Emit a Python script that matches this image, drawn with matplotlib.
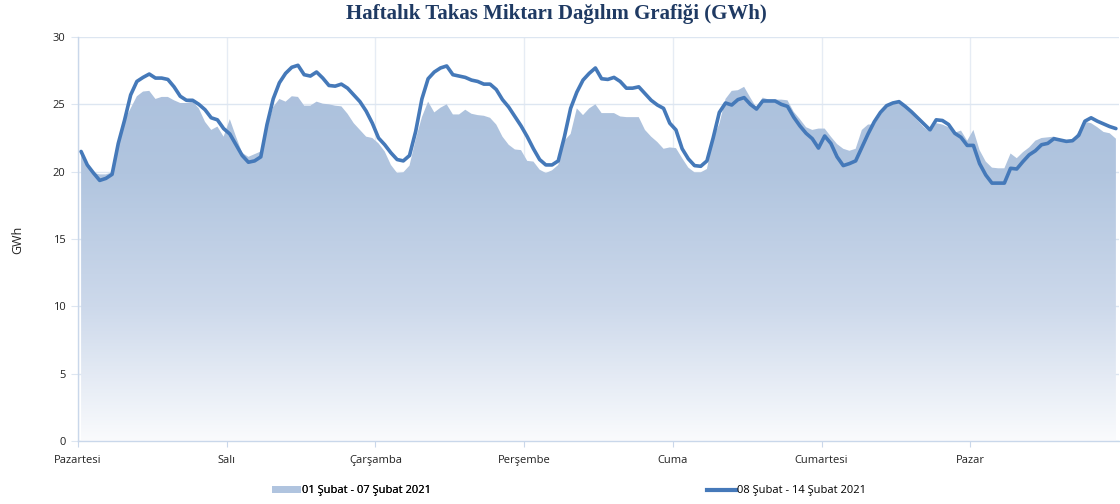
import numpy as np
import matplotlib
matplotlib.use("Agg")
import matplotlib.pyplot as plt
from matplotlib.patches import Polygon, Patch
from matplotlib.lines import Line2D
from matplotlib.colors import LinearSegmentedColormap

days = ["Pazartesi", "Salı", "Çarşamba", "Perşembe", "Cuma", "Cumartesi", "Pazar"]
label_week1 = "01 Şubat - 07 Şubat 2021"
label_week2 = "08 Şubat - 14 Şubat 2021"

week1 = [
    21.4, 20.4, 19.9, 19.8, 19.8, 19.95, 21.8, 23.8, 24.7, 25.6, 25.95, 26.0, 25.4, 25.55, 25.55, 25.3, 25.1, 25.1, 25.2, 24.7, 23.7, 23.1, 23.35, 22.6,
    23.9, 22.6, 21.4, 21.1, 21.3, 21.5, 23.3, 24.8, 25.4, 25.2, 25.6, 25.55, 24.9, 24.9, 25.2, 25.05, 25.0, 24.9, 24.85, 24.3, 23.6, 23.1, 22.6, 22.5,
    22.1, 21.5, 20.5, 19.9, 19.95, 20.45, 22.4, 24.05, 25.2, 24.4, 24.75, 25.0, 24.25, 24.25, 24.6, 24.3, 24.2, 24.15, 24.0, 23.5, 22.6, 22.0, 21.65, 21.6,
    20.8, 20.75, 20.15, 19.9, 20.1, 20.5, 22.3, 22.8, 24.7, 24.2, 24.7, 25.0, 24.35, 24.35, 24.35, 24.1, 24.05, 24.05, 24.05, 23.1, 22.6, 22.2, 21.7, 21.8,
    21.75, 21.0, 20.3, 19.95, 19.95, 20.2, 22.5, 23.55, 25.4, 26.0, 26.05, 26.3, 25.5, 24.75, 25.5, 25.35, 25.35, 25.35, 25.3, 24.45, 23.9, 23.3, 23.1, 23.2,
    23.2, 22.6, 22.05, 21.7, 21.55, 21.7, 23.1, 23.5, 23.5, 24.2, 24.8, 25.05, 25.2, 24.8, 24.3, 23.8, 23.3, 22.95, 23.6, 23.5, 23.3, 22.9, 23.05, 22.3,
    23.1, 21.6, 20.75, 20.3, 20.25, 20.25, 21.35, 21.0, 21.45, 21.8, 22.3, 22.5, 22.55, 22.6, 22.35, 22.15, 22.25, 23.0, 23.7, 23.6, 23.3, 22.95, 22.85, 22.45,
]

week2 = [
    21.5, 20.5, 19.9, 19.35, 19.5, 19.8, 22.1, 23.8, 25.7, 26.7, 27.0, 27.25, 26.95, 26.95, 26.85, 26.3, 25.6, 25.3, 25.3, 25.0, 24.6, 24.0, 23.85, 23.2,
    22.8, 22.0, 21.2, 20.7, 20.8, 21.1, 23.5, 25.4, 26.6, 27.3, 27.75, 27.9, 27.2, 27.1, 27.4, 26.95, 26.4, 26.35, 26.5, 26.2, 25.7, 25.2, 24.5, 23.6,
    22.5, 22.0, 21.4, 20.9, 20.8, 21.2, 23.0, 25.4, 26.9, 27.4, 27.7, 27.85, 27.2, 27.1, 27.0, 26.8, 26.7, 26.5, 26.5, 26.1, 25.35, 24.8, 24.1, 23.4,
    22.6, 21.7, 20.9, 20.5, 20.5, 20.8, 22.6, 24.7, 25.9, 26.8, 27.3, 27.7, 26.9, 26.85, 27.0, 26.7, 26.2, 26.2, 26.3, 25.8, 25.3, 24.95, 24.7, 23.6,
    23.1, 21.7, 20.95, 20.45, 20.4, 20.8, 22.5, 24.4, 25.1, 24.95, 25.35, 25.5, 25.0, 24.65, 25.25, 25.25, 25.25, 25.0, 24.85, 24.05, 23.4, 22.85, 22.45, 21.75,
    22.65, 22.1, 21.1, 20.45, 20.6, 20.8, 21.8, 22.8, 23.7, 24.4, 24.9, 25.1, 25.2, 24.85, 24.45, 24.0, 23.55, 23.1, 23.85, 23.8, 23.5, 22.85, 22.55, 21.95,
    21.95, 20.6, 19.75, 19.15, 19.15, 19.15, 20.25, 20.2, 20.75, 21.25, 21.55, 22.0, 22.1, 22.45, 22.35, 22.25, 22.3, 22.7, 23.75, 24.0, 23.75, 23.55, 23.35, 23.2,
]

W, H = 1120, 504
fig = plt.figure(figsize=(W / 100, H / 100), dpi=100)
ax = fig.add_axes([78 / W, 63 / H, 1041 / W, 404 / H])

x = np.arange(len(week2))
ax.set_xlim(-0.5, len(x) - 0.5)
ax.set_ylim(0, 30)

# gradient area
cmap = LinearSegmentedColormap.from_list(
    "grad",
    [(0.0, "#fafbfd"), (0.33, "#cdd9eb"), (0.66, "#b1c5df"), (1.0, "#aabfdc")],
)
verts = np.vstack([[x[0], 0], np.column_stack([x, week1]), [x[-1], 0]])
poly = Polygon(verts, closed=True, facecolor="none", edgecolor="none", zorder=2)
ax.add_patch(poly)
grad = np.linspace(0, 1, 256).reshape(-1, 1)
im = ax.imshow(grad, extent=[x[0], x[-1], 0, 30], origin="lower", aspect="auto",
               cmap=cmap, zorder=2, interpolation="bilinear")
im.set_clip_path(poly)
ax.set_xlim(-0.5, len(x) - 0.5)
ax.set_ylim(0, 30)

ax.plot(x, week2, color="#4579b9", lw=2.6, zorder=4, solid_joinstyle="round",
        solid_capstyle="round")

ax.set_yticks(np.arange(0, 31, 5))
ax.set_xticks(np.arange(7) * 24 - 0.5)
ax.set_xticklabels(days)
ax.set_axisbelow(True)
ax.yaxis.grid(True, color="#dde6f1", lw=1.0, zorder=0)
ax.xaxis.grid(True, color="#e6ecf4", lw=1.0, zorder=0)

for s in ["top", "right"]:
    ax.spines[s].set_visible(False)
for s in ["left", "bottom"]:
    ax.spines[s].set_color("#c9d7ea")
    ax.spines[s].set_linewidth(1.0)

ax.tick_params(axis="x", length=4, color="#c9d7ea", labelsize=8, labelcolor="#222222", pad=6)
ax.tick_params(axis="y", length=5, color="#dde6f1", labelsize=8, labelcolor="#222222", pad=4)
for lab in ax.get_xticklabels() + ax.get_yticklabels():
    lab.set_fontfamily("Open Sans")

fig.text(18 / W, 1 - 240 / H, "GWh", rotation=90, ha="center", va="center",
         fontsize=9, color="#222222", family="Open Sans")

fig.text(556 / W, 1 - 14 / H, "Haftalık Takas Miktarı Dağılım Grafiği (GWh)",
         ha="center", va="center", fontsize=15, fontweight="bold",
         color="#1f3a63", family="Liberation Serif")

h1 = Patch(facecolor="#b0c4df", edgecolor="none")
h2 = Line2D([0], [0], color="#4579b9", lw=3)
leg1 = fig.legend([h1], [label_week1], loc="center left",
                  bbox_to_anchor=(262 / W, 1 - 491 / H), frameon=False,
                  handlelength=2.6, handleheight=0.5, handletextpad=0.1,
                  prop={"family": "Open Sans", "size": 8})
leg2 = fig.legend([h2], [label_week2], loc="center left",
                  bbox_to_anchor=(697 / W, 1 - 491 / H), frameon=False,
                  handlelength=2.6, handletextpad=0.1,
                  prop={"family": "Open Sans", "size": 8})
fig.add_artist(leg1)

fig.savefig("out.png", dpi=100)
